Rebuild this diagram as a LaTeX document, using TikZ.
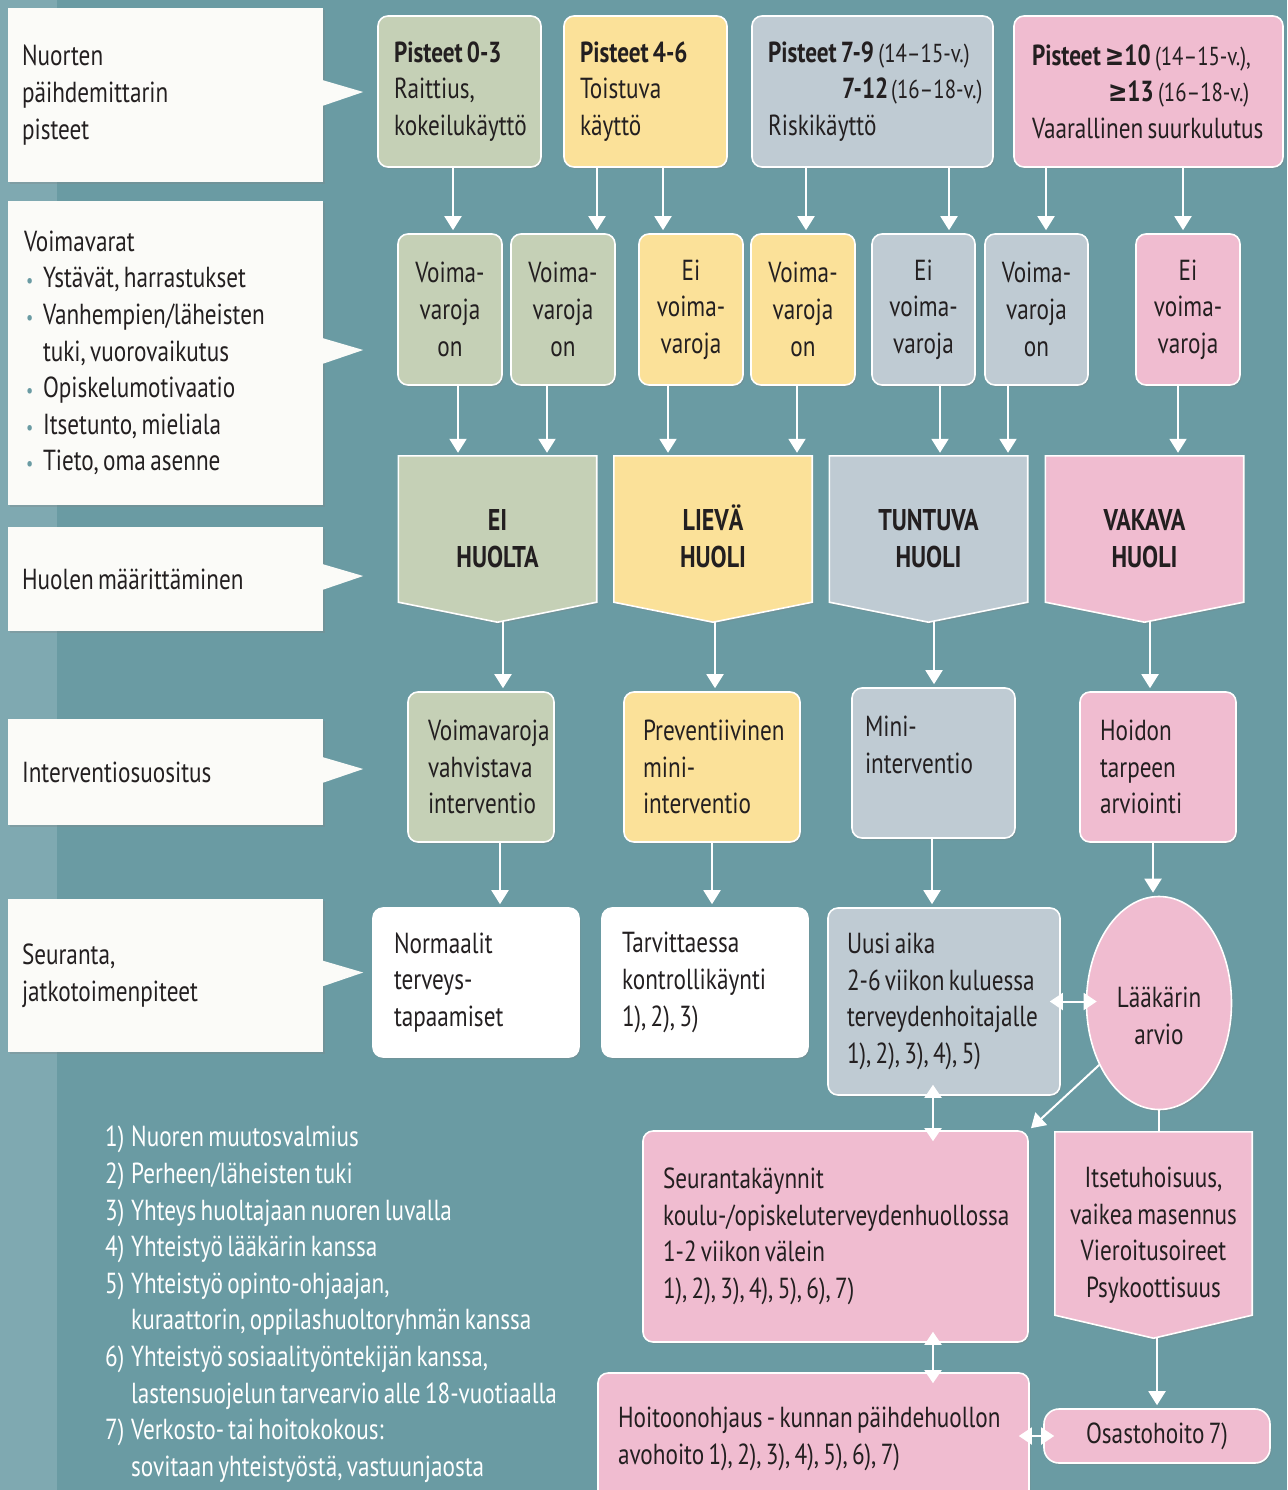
\documentclass[tikz,border=0pt]{standalone}
\usepackage{fontspec}
\setmainfont{PT Sans}[FakeStretch=0.8, WordSpace=0.7]
\newfontfamily\symf{DejaVu Sans}[FakeStretch=0.8]
\usetikzlibrary{arrows.meta,shapes.geometric,calc,shadows}
\definecolor{bgc}{HTML}{6A9BA3}
\definecolor{bgl}{HTML}{7FA9B1}
\definecolor{cg}{HTML}{C5D0B6}
\definecolor{cy}{HTML}{FBE199}
\definecolor{cb}{HTML}{BFCBD3}
\definecolor{cp}{HTML}{F0BCD0}
\definecolor{cw}{HTML}{FBFBF8}
\definecolor{tx}{HTML}{231F20}
\pgfdeclarelayer{bg}
\pgfsetlayers{bg,main}
\newcommand\mygeq{{\symf ≥}}
\newcommand\smp[1]{{\fontsize{26}{36.6}\selectfont #1}}
\newcommand\bul{\makebox[19pt][l]{\hspace{2pt}\textcolor{bgc}{\fontsize{20}{20}\selectfont •}}}
\newcommand\pennant[3]{%
  \begin{pgfonlayer}{bg}
  \path[fill=#2, draw=white, line width=1.6pt, softshadow]
    (#1.north west) -- (#1.north east) -- ($(#1.south east)+(0,-#3)$) --
    (#1.south) -- ($(#1.south west)+(0,-#3)$) -- cycle;
  \end{pgfonlayer}}
\tikzset{
  txt/.style={font=\fontsize{29}{36.6}\selectfont, text=tx, inner sep=0pt,
    execute at begin node={\hyphenpenalty=10000 \exhyphenpenalty=10000 }},
  softshadow/.style={drop shadow={opacity=0.28, shadow xshift=1.5pt, shadow yshift=-2pt}},
  rbox/.style={txt, draw=white, line width=1.6pt, rounded corners=10pt, softshadow, align=flush left},
  cbox/.style={txt, draw=white, line width=1.6pt, rounded corners=10pt, softshadow, align=center},
  calloutbox/.style={txt, fill=cw, align=flush left, softshadow, minimum width=315pt},
  penn/.style={txt, font=\fontsize{30}{37}\selectfont\bfseries, align=center},
  arr/.style={draw=white, line width=2pt, -{Triangle[width=17pt,length=14pt]}, shorten >=3pt},
  darr/.style={draw=white, line width=2pt, {Triangle[width=17pt,length=13pt]}-{Triangle[width=17pt,length=13pt]}, shorten >=-11pt, shorten <=-11pt},
  ln/.style={draw=white, line width=2pt},
}
\begin{document}
\begin{tikzpicture}[x=1pt,y=-1pt]
\useasboundingbox (0,0) rectangle (1287,1490);
\begin{pgfonlayer}{bg}
\fill[bgc] (0,0) rectangle (1287,1490);
\fill[bgl] (0,0) rectangle (57,1490);
\end{pgfonlayer}

% left callouts
\node[calloutbox, minimum height=174pt, text width=287pt] (c1) at (165.5,95) {Nuorten\\päihdemittarin\\pisteet};
\node[calloutbox, minimum height=304pt, text width=283pt] (c2) at (165.5,353) {Voimavarat\\
\bul Ystävät, harrastukset\\
\bul Vanhempien/läheisten\\
\hspace*{19pt}tuki, vuorovaikutus\\
\bul Opiskelumotivaatio\\
\bul Itsetunto, mieliala\\
\bul Tieto, oma asenne};
\node[calloutbox, minimum height=104pt, text width=287pt] (c3) at (165.5,579) {Huolen määrittäminen};
\node[calloutbox, minimum height=106pt, text width=287pt] (c4) at (165.5,772) {Interventiosuositus};
\node[calloutbox, minimum height=153pt, text width=287pt] (c5) at (165.5,975.5) {Seuranta,\\jatkotoimenpiteet};
\foreach \c in {c1,c2,c3,c4,c5}{
  \fill[cw] ($(\c.east)+(-1,-15)$) -- ($(\c.east)+(40,-3)$) -- ($(\c.east)+(-1,11)$) -- cycle;
}

% top row
\node[rbox, fill=cg, minimum width=163pt, minimum height=151pt, text width=131pt] (tg) at (459.5,91.5) {\textbf{Pisteet 0-3}\\Raittius,\\kokeilukäyttö};
\node[rbox, fill=cy, minimum width=163pt, minimum height=151pt, text width=131pt] (ty) at (645.5,91.5) {\textbf{Pisteet 4-6}\\Toistuva\\käyttö};
\node[rbox, fill=cb, minimum width=241pt, minimum height=151pt, text width=209pt] (tb) at (872.5,91.5) {\textbf{Pisteet~7-9}~\smp{(14–15-v.)}\\\hspace*{74pt}\textbf{7-12}~\smp{(16–18-v.)}\\Riskikäyttö};
\node[rbox, fill=cp, minimum width=269pt, minimum height=151pt, text width=233pt] (tp) at (1148.5,91.5) {\textbf{Pisteet~\mygeq10}~\smp{(14–15-v.),}\\\hspace*{76pt}\textbf{\mygeq13}~\smp{(16–18-v.)}\\Vaarallinen~suurkulutus};

% second row
\node[cbox, fill=cg, minimum width=104pt, minimum height=151pt] (g1) at (450,309.5) {Voima-\\varoja\\on};
\node[cbox, fill=cg, minimum width=104pt, minimum height=151pt] (g2) at (563,309.5) {Voima-\\varoja\\on};
\node[cbox, fill=cy, minimum width=104pt, minimum height=151pt] (y1) at (691,309.5) {Ei\\voima-\\varoja};
\node[cbox, fill=cy, minimum width=104pt, minimum height=151pt] (y2) at (803,309.5) {Voima-\\varoja\\on};
\node[cbox, fill=cb, minimum width=103pt, minimum height=151pt] (b1) at (923.5,309.5) {Ei\\voima-\\varoja};
\node[cbox, fill=cb, minimum width=103pt, minimum height=151pt] (b2) at (1036.5,309.5) {Voima-\\varoja\\on};
\node[cbox, fill=cp, minimum width=104pt, minimum height=151pt] (p1) at (1188,309.5) {Ei\\voima-\\varoja};

% pennants
\node[penn, minimum width=198pt, minimum height=166pt] (ei) at (497.5,539) {EI\\HUOLTA};
\node[penn, minimum width=198pt, minimum height=166pt] (lv) at (713,539) {LIEV\smash{Ä}\\HUOLI};
\node[penn, minimum width=198pt, minimum height=166pt] (tu) at (928.5,539) {TUNTUVA\\HUOLI};
\node[penn, minimum width=198pt, minimum height=166pt] (va) at (1144.5,539) {VAKAVA\\HUOLI};
\pennant{ei}{cg}{20}
\pennant{lv}{cy}{20}
\pennant{tu}{cb}{20}
\pennant{va}{cp}{20}

% fourth row
\node[rbox, fill=cg, minimum width=146pt, minimum height=150pt, text width=106pt] (f1) at (481,767) {Voimavaroja\\vahvistava\\interventio};
\node[rbox, fill=cy, minimum width=176pt, minimum height=150pt, text width=138pt] (f2) at (712,767) {Preventiivinen\\mini-\\interventio};
\node[rbox, fill=cb, minimum width=163pt, minimum height=150pt, text width=137pt] (f3) at (933.5,763) {Mini-\\interventio\\~};
\node[rbox, fill=cp, minimum width=156pt, minimum height=150pt, text width=116pt] (f4) at (1158,767) {Hoidon\\tarpeen\\arviointi};

% fifth row
\node[rbox, fill=white, minimum width=206pt, minimum height=149pt, text width=164pt] (s1) at (476,982.5) {Normaalit\\terveys-\\tapaamiset};
\node[rbox, fill=white, minimum width=206pt, minimum height=149pt, text width=166pt] (s2) at (705,982.5) {Tarvittaessa\\kontrollikäynti\\1), 2), 3)};
\node[rbox, fill=cb, minimum width=232pt, minimum height=187pt, text width=194pt] (ua) at (944,1001.5) {Uusi~aika\\2-6~viikon~kuluessa\\terveydenhoitajalle\\1),~2),~3),~4),~5)};
\node[txt, ellipse, fill=cp, draw=white, line width=1.6pt, softshadow, minimum width=145pt, minimum height=213pt] (la) at (1159,1003) {\raisebox{-22pt}[0pt][0pt]{\begin{tabular}{@{}c@{}}Lääkärin\\arvio\end{tabular}}};

% sixth row
\node[rbox, fill=cp, minimum width=385pt, minimum height=211pt, text width=345pt] (sk) at (835.5,1236.5) {Seurantakäynnit\\koulu-/opiskeluterveydenhuollossa\\1-2~viikon~välein\\1),~2),~3),~4),~5),~6),~7)};
\node[txt, align=center, minimum width=197pt, minimum height=206pt] (it) at (1153.5,1235) {Itsetuhoisuus,\\vaikea masennus\\Vieroitusoireet\\Psykoottisuus};
\pennant{it}{cp}{23}

% seventh row
\node[rbox, fill=cp, minimum width=431pt, minimum height=132pt, text width=391pt] (ho) at (813.5,1439) {Hoitoonohjaus~-~kunnan~päihdehuollon\\avohoito~1),~2),~3),~4),~5),~6),~7)};
\node[txt, fill=cp, draw=white, line width=1.6pt, rounded corners=15pt, softshadow, minimum width=226pt, minimum height=54pt] (os) at (1157,1436) {Osastohoito 7)};

% footnotes
\node[txt, text=white, align=left, anchor=north west] (fn) at (105,1126) {%
\makebox[26pt][l]{1)}Nuoren muutosvalmius\\
\makebox[26pt][l]{2)}Perheen/läheisten tuki\\
\makebox[26pt][l]{3)}Yhteys huoltajaan nuoren luvalla\\
\makebox[26pt][l]{4)}Yhteistyö lääkärin kanssa\\
\makebox[26pt][l]{5)}Yhteistyö opinto-ohjaajan,\\
\hspace*{26pt}kuraattorin, oppilashuoltoryhmän kanssa\\
\makebox[26pt][l]{6)}Yhteistyö sosiaalityöntekijän kanssa,\\
\hspace*{26pt}lastensuojelun tarvearvio alle 18-vuotiaalla\\
\makebox[26pt][l]{7)}Verkosto- tai hoitokokous:\\
\hspace*{26pt}sovitaan yhteistyöstä, vastuunjaosta};

% arrows top -> second
\draw[arr] (453,0 |- tg.south) -- (453,0 |- g1.north);
\draw[arr] (597,0 |- ty.south) -- (597,0 |- g2.north);
\draw[arr] (663,0 |- ty.south) -- (663,0 |- y1.north);
\draw[arr] (806,0 |- tb.south) -- (806,0 |- y2.north);
\draw[arr] (949,0 |- tb.south) -- (949,0 |- b1.north);
\draw[arr] (1046,0 |- tp.south) -- (1046,0 |- b2.north);
\draw[arr] (1183,0 |- tp.south) -- (1183,0 |- p1.north);
% second -> pennants
\draw[arr] (458,0 |- g1.south) -- (458,0 |- ei.north);
\draw[arr] (547,0 |- g2.south) -- (547,0 |- ei.north);
\draw[arr] (668,0 |- y1.south) -- (668,0 |- lv.north);
\draw[arr] (797,0 |- y2.south) -- (797,0 |- lv.north);
\draw[arr] (940,0 |- b1.south) -- (940,0 |- tu.north);
\draw[arr] (1008,0 |- b2.south) -- (1008,0 |- tu.north);
\draw[arr] (1178,0 |- p1.south) -- (1178,0 |- va.north);
% pennants -> fourth
\draw[arr] (503,0 |- ei.south) -- (503,0 |- f1.north);
\draw[arr] (715,0 |- lv.south) -- (715,0 |- f2.north);
\draw[arr] (934,0 |- tu.south) -- (934,0 |- f3.north);
\draw[arr] (1150,0 |- va.south) -- (1150,0 |- f4.north);
% fourth -> fifth
\draw[arr] (500,0 |- f1.south) -- (500,0 |- s1.north);
\draw[arr] (712,0 |- f2.south) -- (712,0 |- s2.north);
\draw[arr] (932,0 |- f3.south) -- (932,0 |- ua.north);
\draw[arr] (1153,0 |- f4.south) -- (1153,0 |- la.north);
% lower part
\draw[darr] (ua.east) -- (ua.east -| la.west);
\draw[darr] (933,0 |- ua.south) -- (933,0 |- sk.north);
\draw[darr] (933,0 |- sk.south) -- (933,0 |- ho.north);
\draw[darr] (ho.east |- os.west) -- (os.west);
\draw[arr] (la.226) -- (sk.north east);
\draw[ln] (la.south) -- (la.south |- it.north);
\draw[arr] (1157,0 |- it.south) -- (os.north);
\end{tikzpicture}
\end{document}
